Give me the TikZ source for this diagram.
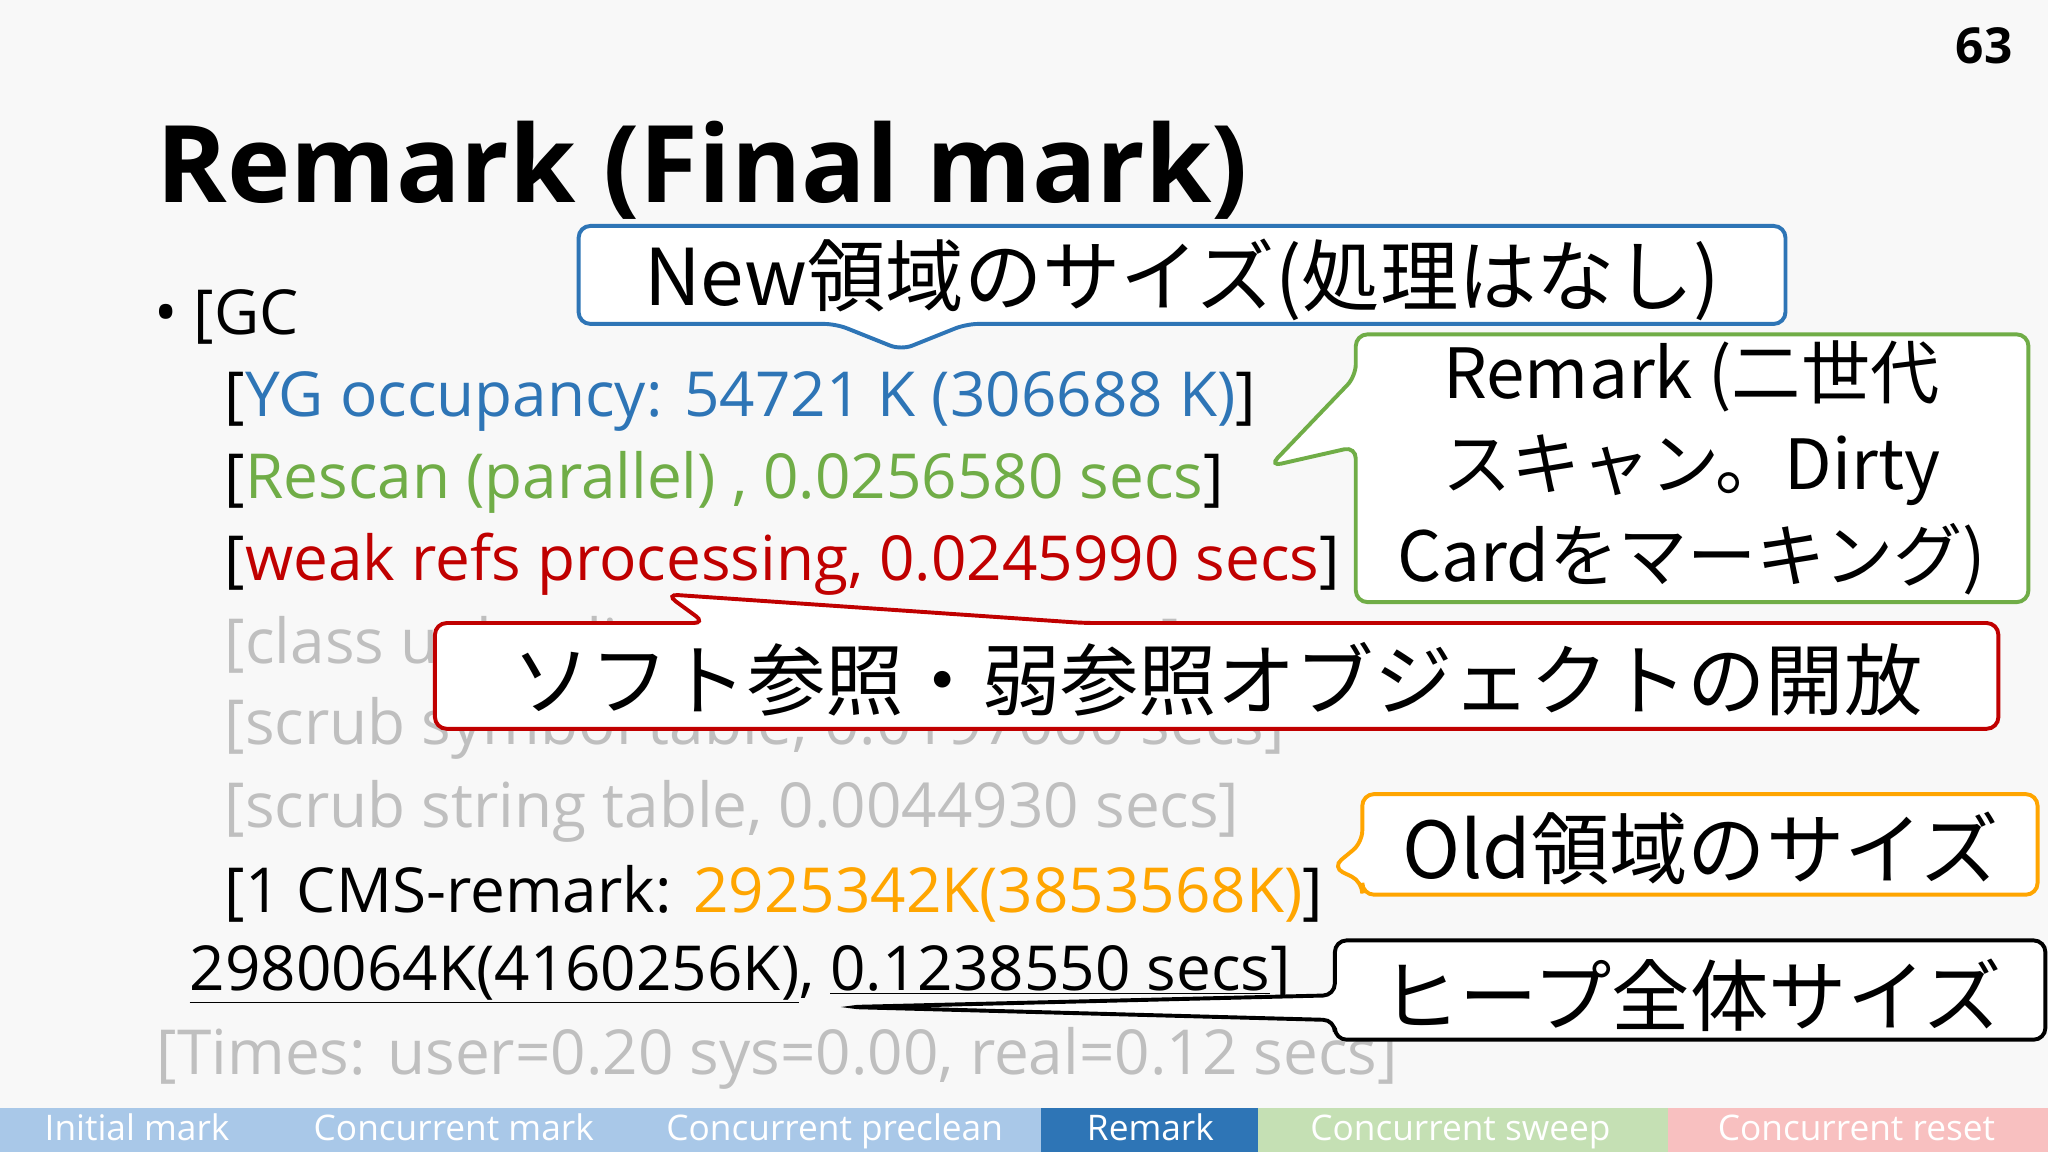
\documentclass[tikz,border=0pt]{standalone}
\usepackage{fontspec}
\setmainfont{Open Sans}
\newfontfamily\jp{Noto Sans CJK JP}
\definecolor{cblue}{HTML}{2E75B6}
\definecolor{cgreen}{HTML}{70AD47}
\definecolor{cred}{HTML}{C00000}
\definecolor{corange}{HTML}{FFA500}
\definecolor{cgray}{HTML}{BFBFBF}
\definecolor{bg}{HTML}{F8F8F8}
\definecolor{barblue}{HTML}{A9C8E8}
\definecolor{bargreen}{HTML}{C5E0B4}
\definecolor{barpink}{HTML}{F8C0C0}
\begin{document}
\begin{tikzpicture}[x=1pt,y=-1pt,
  body/.style={anchor=west,inner sep=0pt,font=\fontsize{47.5}{50}\selectfont},
  callout/.style={fill=white,line width=3pt,rounded corners=9pt},
  ctext/.style={inner sep=0pt,font=\fontsize{60}{62}\selectfont\jp},
  bar/.style={inner sep=0pt,anchor=west,text height=20pt,text depth=6pt,text=white,font=\fontsize{27}{30}\selectfont}]
\fill[bg] (0,0) rectangle (1568,882);
\useasboundingbox (0,0) rectangle (1568,882);
\node[inner sep=0pt,font=\fontsize{38}{40}\selectfont\bfseries] (pg) at (1519,35) {63};
\node[anchor=west,inner sep=0pt,font=\fontsize{82}{88}\selectfont\bfseries] (title) at (120,130) {Remark (Final mark)};
\node[body] (l0) at (118,243) {\textbullet\ [GC};
\node[body] (l1) at (172,307) {[\textcolor{cblue}{YG occupancy: 54721 K (306688 K)}]};
\node[body] (l2) at (172,369) {[\textcolor{cgreen}{Rescan (parallel) , 0.0256580 secs}]};
\node[body] (l3) at (172,432) {[\textcolor{cred}{weak refs processing, 0.0245990 secs}]};
\node[body,text=cgray] (l4) at (172,496) {[class unloading, 0.0071250 secs]};
\node[body,text=cgray] (l5) at (172,558) {[scrub symbol table, 0.0197000 secs]};
\node[body,text=cgray] (l6) at (172,621) {[scrub string table, 0.0044930 secs]};
\node[body] (l7) at (172,684) {[1 CMS-remark: \textcolor{corange}{2925342K(3853568K)}]};
\node[body] (l8) at (145,746) {\underline{2980064K(4160256K)}, \underline{0.1238550 secs}]};
\node[body,text=cgray] (l9) at (120,810) {[Times: user=0.20 sys=0.00, real=0.12 secs]};
% bottom bar
\fill[barblue] (0,848) rectangle (797,882);
\fill[cblue] (797,848) rectangle (963,882);
\fill[bargreen] (963,848) rectangle (1277,882);
\fill[barpink] (1277,848) rectangle (1568,882);
\node[bar] (b1) at (34,866) {Initial mark};
\node[bar] (b2) at (240,866) {Concurrent mark};
\node[bar] (b3) at (510,866) {Concurrent preclean};
\node[bar] (b4) at (832,866) {Remark};
\node[bar] (b5) at (1003,866) {Concurrent sweep};
\node[bar] (b6) at (1315,866) {Concurrent reset};
% blue callout
\draw[callout,draw=cblue] (443,173) -- (1367,173) -- (1367,248) -- (740,248) -- (690,268) -- (640,248) -- (443,248) -- cycle;
\node[ctext] (t1) at (905,214) {New領域のサイズ(処理はなし)};
% green callout
\draw[callout,draw=cgreen] (1038,256) -- (1553,256) -- (1553,461) -- (1038,461) -- (1038,342) -- (972,357) -- (1038,288) -- cycle;
\node[ctext,align=center,font=\fontsize{53}{70}\selectfont\jp] (t2) at (1295,358) {Remark (二世代\\スキャン。Dirty\\Cardをマーキング)};
% red callout
\draw[callout,draw=cred] (333,477) -- (540,477) -- (510,455) -- (830,477) -- (1530,477) -- (1530,558) -- (333,558) -- cycle;
\node[ctext] (t3) at (932,520) {ソフト参照・弱参照オブジェクトの開放};
% orange callout
\draw[callout,draw=corange] (1043,608) -- (1560,608) -- (1560,685) -- (1043,685) -- (1043,675) -- (1020,664) -- (1043,645) -- cycle;
\node[ctext] (t4) at (1302,650) {Old領域のサイズ};
% black callout
\draw[callout,draw=black] (1022,720) -- (1566,720) -- (1566,796) -- (1022,796) -- (1022,781) -- (650,771) -- (1022,762) -- cycle;
\node[ctext] (t5) at (1295,762) {ヒープ全体サイズ};
\end{tikzpicture}
\end{document}
